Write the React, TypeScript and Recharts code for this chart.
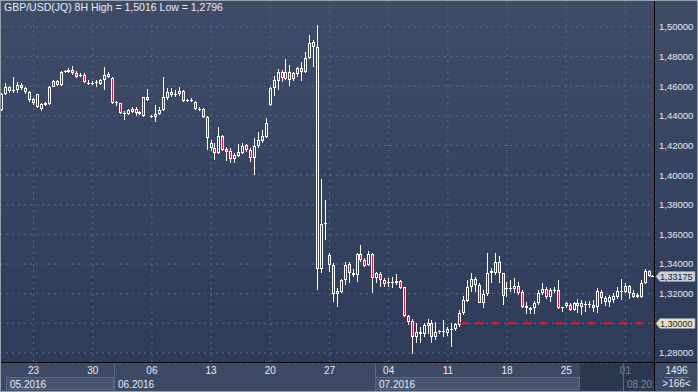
import { Bar, CartesianGrid, ComposedChart, ReferenceLine, XAxis, YAxis } from "recharts";

// 8H candles, 18.05.2016 .. 02.08.2016
const opens = [
  1.444, 1.4548, 1.4593, 1.457, 1.4575, 1.4609, 1.4587, 1.4562, 1.4512, 1.4458,
  1.4444, 1.4471, 1.4477, 1.4597, 1.4633, 1.4607, 1.4694, 1.4696, 1.4712, 1.4692,
  1.4678, 1.4675, 1.4624, 1.462, 1.4622, 1.4615, 1.4642, 1.466, 1.4655, 1.4484,
  1.4484, 1.4417, 1.4413, 1.4426, 1.4446, 1.4428, 1.4399, 1.453, 1.4399, 1.439,
  1.4413, 1.444, 1.4518, 1.4559, 1.4545, 1.4547, 1.4568, 1.4504, 1.4502, 1.4493,
  1.4449, 1.4446, 1.4394, 1.422, 1.4181, 1.4152, 1.4264, 1.4174, 1.4163, 1.4107,
  1.4129, 1.4152, 1.4201, 1.417, 1.4113, 1.4197, 1.4233, 1.426, 1.4474, 1.4586,
  1.4638, 1.4698, 1.4652, 1.4698, 1.4647, 1.468, 1.4721, 1.4698, 1.4788, 1.4896,
  1.4867, 1.3364, 1.367, 1.3461, 1.3394, 1.3198, 1.3214, 1.3293, 1.34, 1.3342,
  1.3326, 1.3468, 1.3428, 1.3394, 1.3468, 1.3304, 1.3333, 1.3293, 1.3281, 1.3277,
  1.327, 1.3286, 1.3243, 1.305, 1.3018, 1.2905, 1.2944, 1.2928, 1.2982, 1.3005,
  1.2905, 1.2944, 1.2944, 1.2935, 1.296, 1.296, 1.2989, 1.3067, 1.3153, 1.3243,
  1.3297, 1.3259, 1.314, 1.3198, 1.3338, 1.3338, 1.3417, 1.3338, 1.3237, 1.323,
  1.323, 1.3252, 1.3214, 1.3118, 1.3106, 1.3101, 1.3135, 1.3203, 1.323, 1.3176,
  1.3225, 1.3225, 1.3108, 1.312, 1.3124, 1.309, 1.3135, 1.3113, 1.3131, 1.3127,
  1.3124, 1.3113, 1.3214, 1.3169, 1.3147, 1.3158, 1.3176, 1.3221, 1.3214, 1.3252,
  1.3207, 1.318, 1.318, 1.3275, 1.3356, 1.332,
];
const highs = [
  1.4555, 1.4624, 1.4604, 1.466, 1.463, 1.462, 1.4597, 1.4568, 1.452, 1.455,
  1.449, 1.4495, 1.4604, 1.4642, 1.4645, 1.4705, 1.4712, 1.4722, 1.4737, 1.4703,
  1.4687, 1.4687, 1.464, 1.4633, 1.464, 1.4648, 1.473, 1.4695, 1.466, 1.45,
  1.449, 1.443, 1.4446, 1.446, 1.4462, 1.4433, 1.4529, 1.4584, 1.4406, 1.447,
  1.446, 1.466, 1.4587, 1.4587, 1.4575, 1.4597, 1.4575, 1.4514, 1.4518, 1.45,
  1.446, 1.4451, 1.4399, 1.4237, 1.4215, 1.4322, 1.4271, 1.4188, 1.418, 1.4147,
  1.421, 1.4215, 1.421, 1.4181, 1.4248, 1.4293, 1.4305, 1.4383, 1.4597, 1.4669,
  1.4714, 1.4709, 1.4782, 1.4743, 1.4698, 1.4732, 1.4766, 1.4833, 1.4946, 1.4912,
  1.5016, 1.3971, 1.3832, 1.3477, 1.3405, 1.3236, 1.3297, 1.3416, 1.3416, 1.3365,
  1.3477, 1.3529, 1.3439, 1.3491, 1.3473, 1.3349, 1.3349, 1.3304, 1.3304, 1.3315,
  1.3333, 1.3293, 1.3248, 1.3056, 1.3027, 1.3005, 1.2978, 1.3, 1.3027, 1.3023,
  1.3011, 1.2955, 1.3023, 1.2978, 1.3005, 1.3005, 1.309, 1.3185, 1.3293, 1.3338,
  1.3315, 1.327, 1.3225, 1.3473, 1.3372, 1.3473, 1.3451, 1.3342, 1.3282, 1.3289,
  1.3304, 1.3282, 1.3225, 1.3146, 1.3113, 1.3153, 1.3225, 1.3275, 1.3248, 1.3237,
  1.3248, 1.3289, 1.3113, 1.3146, 1.3135, 1.3146, 1.3162, 1.3158, 1.3153, 1.3153,
  1.3158, 1.3237, 1.3225, 1.3185, 1.3192, 1.3207, 1.3248, 1.3297, 1.327, 1.3259,
  1.3225, 1.3203, 1.3293, 1.3365, 1.336, 1.3325,
];
const lows = [
  1.443, 1.454, 1.4552, 1.4552, 1.4552, 1.4575, 1.4547, 1.4496, 1.447, 1.445,
  1.4433, 1.4466, 1.447, 1.4593, 1.46, 1.46, 1.469, 1.4688, 1.4678, 1.4655,
  1.4665, 1.4624, 1.461, 1.4608, 1.4597, 1.461, 1.4575, 1.4655, 1.4477, 1.4466,
  1.4413, 1.4372, 1.4406, 1.4422, 1.44, 1.4406, 1.4395, 1.4498, 1.4386, 1.4356,
  1.4406, 1.4433, 1.4507, 1.4527, 1.4527, 1.4534, 1.4496, 1.4496, 1.4493, 1.444,
  1.4433, 1.4388, 1.417, 1.4165, 1.4102, 1.4143, 1.4165, 1.4098, 1.4084, 1.4084,
  1.412, 1.4143, 1.4158, 1.4091, 1.3998, 1.4181, 1.4215, 1.4248, 1.4467, 1.4534,
  1.4575, 1.4631, 1.4642, 1.4602, 1.4638, 1.466, 1.4638, 1.4692, 1.4782, 1.4732,
  1.3222, 1.3342, 1.356, 1.3349, 1.3146, 1.3112, 1.3203, 1.3259, 1.327, 1.3315,
  1.3281, 1.3416, 1.3378, 1.3387, 1.3203, 1.327, 1.3248, 1.3243, 1.3248, 1.3236,
  1.3259, 1.323, 1.304, 1.2989, 1.2796, 1.2865, 1.2865, 1.291, 1.2928, 1.287,
  1.2888, 1.2928, 1.291, 1.2915, 1.2843, 1.2951, 1.2978, 1.3056, 1.3146, 1.3214,
  1.3214, 1.3135, 1.3101, 1.3185, 1.327, 1.3327, 1.327, 1.3124, 1.318, 1.3214,
  1.3203, 1.3192, 1.3101, 1.3063, 1.3063, 1.3063, 1.3124, 1.3192, 1.3162, 1.3146,
  1.3203, 1.3095, 1.3079, 1.3101, 1.3086, 1.3086, 1.3072, 1.3056, 1.3079, 1.3101,
  1.3079, 1.3072, 1.3131, 1.3118, 1.3113, 1.314, 1.3162, 1.3158, 1.3203, 1.3162,
  1.3169, 1.3169, 1.3169, 1.3266, 1.3315, 1.3312,
];
const closes = [
  1.455, 1.4597, 1.457, 1.4575, 1.4609, 1.4587, 1.4558, 1.4507, 1.4484, 1.4545,
  1.4482, 1.449, 1.4597, 1.4633, 1.4607, 1.4699, 1.4705, 1.4712, 1.4692, 1.4665,
  1.4675, 1.4628, 1.462, 1.4624, 1.4626, 1.4642, 1.4678, 1.4682, 1.4484, 1.4491,
  1.4417, 1.4419, 1.444, 1.4444, 1.4417, 1.441, 1.4525, 1.4507, 1.4393, 1.4413,
  1.444, 1.4525, 1.4559, 1.4538, 1.455, 1.4568, 1.45, 1.4509, 1.4505, 1.4449,
  1.4446, 1.4395, 1.4248, 1.4181, 1.4152, 1.4264, 1.417, 1.4158, 1.4107, 1.4136,
  1.4154, 1.4197, 1.417, 1.4113, 1.4197, 1.4237, 1.4264, 1.435, 1.4586, 1.4642,
  1.4698, 1.4653, 1.4698, 1.4642, 1.4687, 1.4725, 1.4698, 1.4788, 1.4894, 1.4867,
  1.3364, 1.367, 1.3675, 1.3394, 1.3198, 1.3218, 1.3293, 1.3394, 1.3338, 1.3326,
  1.3468, 1.3428, 1.3387, 1.3468, 1.3304, 1.3338, 1.3293, 1.3266, 1.3275, 1.3281,
  1.3288, 1.3241, 1.305, 1.3011, 1.2905, 1.2944, 1.2926, 1.2989, 1.3005, 1.2905,
  1.2944, 1.2946, 1.2948, 1.296, 1.2955, 1.2993, 1.3072, 1.3158, 1.3243, 1.3297,
  1.3259, 1.314, 1.3198, 1.3338, 1.3356, 1.3417, 1.3338, 1.3185, 1.3233, 1.3241,
  1.3252, 1.3207, 1.3113, 1.3101, 1.309, 1.3135, 1.3207, 1.323, 1.3176, 1.3225,
  1.3221, 1.3101, 1.3101, 1.3135, 1.309, 1.3135, 1.3118, 1.3135, 1.3124, 1.3124,
  1.3106, 1.3221, 1.3169, 1.3147, 1.3176, 1.3185, 1.3221, 1.3217, 1.3252, 1.3207,
  1.3176, 1.3189, 1.3275, 1.3356, 1.332, 1.33175,
];

// first candle of each week (Mondays) and its day label
const weekTicks = [9, 24, 39, 54, 69, 84, 99, 114, 129, 144, 159];
const weekLabels = ["23", "30", "06", "13", "20", "27", "04", "11", "18", "25", "01"];
const monthStarts = [1, 30, 96, 159];
const monthLabels = ["05.2016", "06.2016", "07.2016", "08.2016"];
const priceTicks = [1.28, 1.3, 1.32, 1.34, 1.36, 1.38, 1.4, 1.42, 1.44, 1.46, 1.48, 1.5];
const lastPrice = 1.33175;
const levelPrice = 1.3;
const levelFrom = 117;
const shadeFrom = 148;
const totalBars = 1496;

const W = 698;
const H = 392;
const AXIS_W = 43;
const DAY_H = 14;
const MONTH_H = 15;
const FONT = '"Liberation Sans", Arial, sans-serif';
const RED = "#e8103c";

const candles = opens.map((o, k) => ({ i: k + 1, o, h: highs[k], l: lows[k], c: closes[k] }));
const step = (W - AXIS_W) / candles.length;
const fmt = (v: number, d: number) => v.toFixed(d).replace(".", ",");

function Candle(props: any) {
  const { x, y, width, height, payload } = props;
  const top = Math.min(y, y + height);
  const bot = Math.max(y, y + height);
  const span = payload.h - payload.l;
  const py = (p: number) => (span > 0 ? top + ((payload.h - p) / span) * (bot - top) : top);
  const col = Math.floor(x + width / 2);
  const yo = py(payload.o);
  const yc = py(payload.c);
  const bTop = Math.round(Math.min(yo, yc));
  const bBot = Math.max(Math.round(Math.max(yo, yc)), bTop + 1);
  const down = payload.c < payload.o;
  const wx = col + 0.5;
  return (
    <g>
      {bTop > Math.round(top) && <line x1={wx} x2={wx} y1={Math.round(top)} y2={bTop} stroke="#fff" />}
      {Math.round(bot) > bBot && <line x1={wx} x2={wx} y1={bBot} y2={Math.round(bot)} stroke="#fff" />}
      {bBot - bTop <= 1 ? (
        <line x1={col - 1} x2={col + 2} y1={bTop + 0.5} y2={bTop + 0.5} stroke="#fff" />
      ) : (
        <rect
          x={col - 0.5}
          y={bTop + 0.5}
          width={2}
          height={bBot - bTop - 1}
          fill={down ? RED : "none"}
          stroke="#fff"
          strokeWidth={1}
        />
      )}
    </g>
  );
}

function DayTick({ x, y, payload }: any) {
  const k = weekTicks.indexOf(payload.value);
  const dim = payload.value >= shadeFrom;
  return (
    <text x={x} y={y + 11} textAnchor="middle" fontSize={10} fontFamily={FONT} fill={dim ? "#76839b" : "#e4eaf3"}>
      {weekLabels[k]}
    </text>
  );
}

function MonthTick({ x, y, payload }: any) {
  const k = monthStarts.indexOf(payload.value);
  const next = k + 1 < monthStarts.length ? monthStarts[k + 1] : candles.length + 1;
  const x0 = Math.round(x - step / 2);
  const end = Math.min(next, shadeFrom);
  const x1 = Math.round(x0 + (end - payload.value) * step);
  const dim = payload.value >= shadeFrom;
  const inset = k === 0 ? 6 : 0;
  return (
    <g>
      {k > 0 && <line x1={x0 + 0.5} x2={x0 + 0.5} y1={y - DAY_H} y2={y + MONTH_H} stroke="#5d6984" />}
      {k % 2 === 0 && x1 > x0 && (
        <rect x={x0 + inset + 0.5} y={y + 0.5} width={x1 - x0 - inset - 1} height={MONTH_H - 3} fill="#4a5671" stroke="#5b6782" />
      )}
      <text x={x0 + inset + 4} y={y + 11} fontSize={10} fontFamily={FONT} fill={dim ? "#76839b" : "#e4eaf3"}>
        {monthLabels[k]}
      </text>
    </g>
  );
}

function PriceTag({ viewBox, price, fill }: any) {
  const x0 = viewBox.x + viewBox.width;
  const yc = Math.round(viewBox.y) + 0.5;
  return (
    <g>
      <path
        d={`M${x0 + 1} ${yc} L${x0 + 5} ${yc - 5} H${x0 + 40} V${yc + 5} H${x0 + 5} Z`}
        fill={fill}
        stroke="#8c97a8"
        strokeWidth={0.6}
      />
      <text x={x0 + 5} y={yc + 3.3} fontSize={9} fontFamily={FONT} fill="#1b2233">
        {fmt(price, 5)}
      </text>
    </g>
  );
}

export default function App() {
  const hi = Math.max(...highs);
  const lo = Math.min(...lows);
  return (
    <div
      style={{
        position: "absolute",
        left: 0,
        top: 0,
        width: W,
        height: H,
        background: "linear-gradient(to bottom, #3f4c68, #2e3c5a 92%)",
        fontFamily: FONT,
        overflow: "hidden",
      }}
    >
      <div style={{ position: "absolute", left: 0, top: H - DAY_H - MONTH_H, width: W, height: DAY_H + MONTH_H, background: "#3e4a65" }} />
      <div
        style={{
          position: "absolute",
          left: (shadeFrom - 1) * step,
          top: H - DAY_H - MONTH_H,
          width: W - AXIS_W - (shadeFrom - 1) * step,
          height: DAY_H + MONTH_H,
          background: "#2c3852",
        }}
      />
      <ComposedChart
        width={W}
        height={H}
        data={candles}
        margin={{ top: 0, right: 0, bottom: 0, left: 0 }}
        style={{ position: "absolute", left: 0, top: 0 }}
      >
        <CartesianGrid xAxisId="day" stroke="#5a6883" strokeDasharray="2 4" />
        <XAxis
          xAxisId="day"
          dataKey="i"
          type="category"
          ticks={weekTicks}
          interval={0}
          height={DAY_H}
          tickSize={0}
          tickMargin={0}
          axisLine={false}
          tickLine={false}
          tick={<DayTick />}
        />
        <XAxis
          xAxisId="month"
          dataKey="i"
          type="category"
          ticks={monthStarts}
          interval={0}
          height={MONTH_H}
          tickSize={0}
          tickMargin={0}
          axisLine={false}
          tickLine={false}
          tick={<MonthTick />}
        />
        <YAxis
          orientation="right"
          width={AXIS_W}
          domain={[1.2732, 1.5182]}
          allowDataOverflow
          ticks={priceTicks}
          interval={0}
          tickSize={0}
          tickMargin={4}
          axisLine={false}
          tickLine={false}
          tick={{ fill: "#e4eaf3", fontSize: 9.5, fontFamily: FONT }}
          tickFormatter={(v: number) => (v === levelPrice ? "" : fmt(v, 5))}
        />
        <Bar
          xAxisId="day"
          dataKey={(d: any) => [d.l, d.h]}
          shape={<Candle />}
          isAnimationActive={false}
        />
        <ReferenceLine
          xAxisId="day"
          segment={[
            { x: levelFrom, y: levelPrice },
            { x: candles.length, y: levelPrice },
          ]}
          stroke="#ec1230"
          strokeWidth={2}
          strokeDasharray="8 8"
        />
        <ReferenceLine
          xAxisId="day"
          y={levelPrice}
          stroke="none"
          label={(p: any) => <PriceTag {...p} price={levelPrice} fill="#e9e2c4" />}
        />
        <ReferenceLine
          xAxisId="day"
          y={lastPrice}
          stroke="none"
          label={(p: any) => <PriceTag {...p} price={lastPrice} fill="#c9d0db" />}
        />
      </ComposedChart>
      {/* frame lines */}
      <div style={{ position: "absolute", left: W - AXIS_W - 1, top: 0, width: 1, height: H, background: "#000" }} />
      <div style={{ position: "absolute", left: 0, top: H - DAY_H - MONTH_H - 1, width: W, height: 1, background: "#000" }} />
      <div
        style={{
          position: "absolute",
          left: W - AXIS_W,
          top: H - DAY_H - MONTH_H,
          width: AXIS_W,
          height: DAY_H + MONTH_H,
          background: "#3e4a65",
          color: "#e4eaf3",
          fontSize: 10,
          textAlign: "center",
        }}
      >
        <div style={{ position: "absolute", left: 0, top: 2, width: AXIS_W, lineHeight: "12px" }}>{totalBars}</div>
        <div style={{ position: "absolute", left: 9, top: 14, width: AXIS_W - 18, height: 1, background: "#6b7790" }} />
        <div style={{ position: "absolute", left: 0, top: 15, width: AXIS_W, lineHeight: "12px" }}>
          &gt;{candles.length}&lt;
        </div>
      </div>
      <div
        style={{
          position: "absolute",
          left: 4,
          top: 0,
          lineHeight: "14px",
          fontSize: 10.5,
          color: "#e8eef6",
          whiteSpace: "nowrap",
        }}
      >
        GBP/USD(JQ) 8H High = {fmt(hi, 4)} Low = {fmt(lo, 4)}
      </div>
      <div style={{ position: "absolute", left: 0, top: 0, width: W, height: H, boxShadow: "inset 0 0 0 1px #98a1ae", pointerEvents: "none" }} />
    </div>
  );
}
